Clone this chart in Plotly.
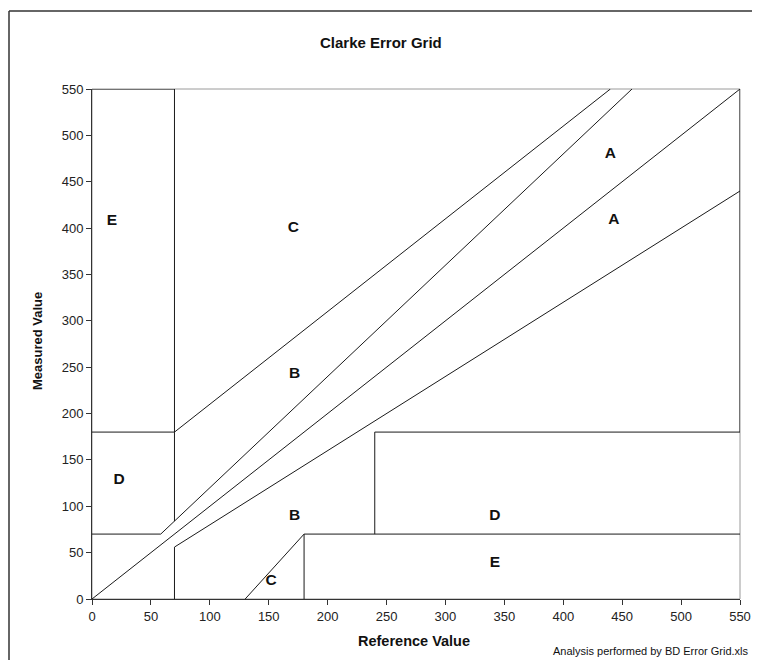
import plotly.graph_objects as go

# Zone boundary polylines (reference value, measured value); None separates segments
diag_x = [0, 550]
diag_y = [0, 550]

zoneA_upper_x = [0, 58.33, 458.33]
zoneA_upper_y = [70, 70, 550]

zoneA_lower_x = [70, 70, None, 70, 550]
zoneA_lower_y = [0, 56, None, 56, 440]

upper_left_x = [70, 70, None, 0, 70, None, 70, 440, None, 70, 70, None, 0, 70]
upper_left_y = [84, 180, None, 180, 180, None, 180, 550, None, 180, 550, None, 550, 550]

lower_right_x = [130, 180, None, 180, 180, None, 180, 550]
lower_right_y = [0, 70, None, 0, 70, None, 70, 70]

zoneD_right_x = [240, 240, 550, 550]
zoneD_right_y = [70, 180, 180, 550]

# Zone labels
zone_labels = ["E", "C", "B", "A", "A", "D", "B", "C", "D", "E"]
label_x = [17, 171, 172, 440, 443, 23, 172, 152, 342, 342]
label_y = [407, 400, 243, 480, 409, 128, 89, 19, 89, 39]

x_ticks = list(range(0, 551, 50))
y_ticks = list(range(0, 551, 50))

line_style = dict(color="#1a1a1a", width=1)
font_family = "Liberation Sans, Arial, sans-serif"

fig = go.Figure()
for xs, ys in [(diag_x, diag_y), (zoneA_upper_x, zoneA_upper_y),
               (zoneA_lower_x, zoneA_lower_y), (upper_left_x, upper_left_y),
               (lower_right_x, lower_right_y), (zoneD_right_x, zoneD_right_y)]:
    fig.add_trace(go.Scatter(x=xs, y=ys, mode="lines", line=line_style,
                             hoverinfo="skip", showlegend=False, cliponaxis=False))

fig.add_trace(go.Scatter(x=label_x, y=label_y, mode="text", text=zone_labels,
                         textfont=dict(family=font_family, size=15.5, color="#111"),
                         texttemplate="<b>%{text}</b>", hoverinfo="skip", showlegend=False))

# page pixel -> paper coordinates (plot area spans x 92..740, y 89..599 on the page)
def px(xp):
    return (xp - 92) / 648

def py(yp):
    return (599 - yp) / 510

frame_line = dict(color="#333", width=1.5)

fig.update_layout(
    width=752, height=652,
    margin=dict(l=84, r=20, t=81, b=61),
    paper_bgcolor="white", plot_bgcolor="white",
    font=dict(family=font_family, size=13, color="#222"),
    showlegend=False,
    xaxis=dict(range=[0, 550], tickvals=x_ticks, showgrid=False, zeroline=False,
               showline=True, linecolor="#333", linewidth=1, automargin=False,
               ticks="outside", ticklen=5, tickcolor="#333",
               tickfont=dict(size=13, color="#222")),
    yaxis=dict(range=[0, 550], tickvals=y_ticks, showgrid=False, zeroline=False,
               showline=True, linecolor="#333", linewidth=1, automargin=False,
               ticks="outside", ticklen=5, tickcolor="#333",
               tickfont=dict(size=13, color="#222")),
    shapes=[
        dict(type="rect", xref="paper", yref="paper", x0=0, y0=0, x1=1, y1=1,
             line=dict(color="#9a9a9a", width=1), layer="below"),
        dict(type="line", xref="paper", yref="paper", x0=px(9), y0=py(11), x1=px(760), y1=py(11),
             line=frame_line, layer="below"),
        dict(type="line", xref="paper", yref="paper", x0=px(9), y0=py(11), x1=px(9), y1=py(660),
             line=frame_line, layer="below"),
    ],
    annotations=[
        dict(text="<b>Clarke Error Grid</b>", xref="paper", yref="paper",
             x=px(381), y=py(42), showarrow=False,
             font=dict(size=15, color="#111"), xanchor="center", yanchor="middle"),
        dict(text="<b>Reference Value</b>", xref="paper", yref="paper",
             x=px(414), y=py(641), showarrow=False,
             font=dict(size=14.5, color="#111"), xanchor="center", yanchor="middle"),
        dict(text="<b>Measured Value</b>", xref="paper", yref="paper",
             x=px(37), y=py(341), showarrow=False, textangle=-90,
             font=dict(size=13, color="#111"), xanchor="center", yanchor="middle"),
        dict(text="Analysis performed by BD Error Grid.xls", xref="paper", yref="paper",
             x=px(750), y=py(651), showarrow=False,
             font=dict(size=11, color="#111"), xanchor="right", yanchor="middle"),
    ],
)

fig.write_html("out.html")
